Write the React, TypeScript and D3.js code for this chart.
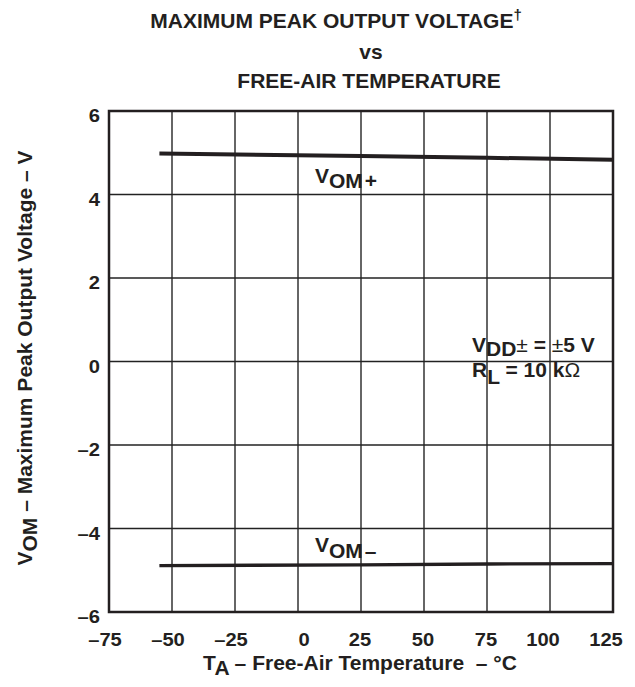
import React from "react";
import * as d3 from "d3";

const xTicks = [-75, -50, -25, 0, 25, 50, 75, 100, 125];
const yTicks = [-6, -4, -2, 0, 2, 4, 6];
const tempC = [-55, 25, 75, 125];
const vomPlus = [4.98, 4.92, 4.88, 4.83];
const vomMinus = [-4.89, -4.87, -4.85, -4.84];

const fmt = (t: number) => (t < 0 ? "\u2013" + Math.abs(t) : String(t));

export default function App() {
  const W = 635, H = 687;
  const L = 109, R = 613, T = 111, B = 612;
  const x = d3.scaleLinear().domain([-75, 125]).range([L, R]);
  const y = d3.scaleLinear().domain([-6, 6]).range([B, T]);
  const line = d3.line<number>().x((_, i) => x(tempC[i])).y((d) => y(d));
  const font = "'Liberation Sans', Arial, Helvetica, sans-serif";
  const ink = "#231f20";
  const xOff = (t: number) => (t === 0 ? 6 : Math.abs(t) >= 100 ? -7 : t < 0 ? -4 : -1);
  return (
    <svg width={W} height={H} style={{ position: "absolute", left: 0, top: 0 }} fontFamily={font} fontWeight="bold" fill={ink}>
      <rect x={0} y={0} width={W} height={H} fill="#fff" />
      <text x={336} y={28} textAnchor="middle" fontSize={21}>MAXIMUM PEAK OUTPUT VOLTAGE<tspan dy={-8} fontSize={15}>†</tspan></text>
      <text x={371} y={59} textAnchor="middle" fontSize={21}>vs</text>
      <text x={369} y={88} textAnchor="middle" fontSize={21}>FREE-AIR TEMPERATURE</text>
      {xTicks.slice(1, -1).map((t) => (
        <line key={"gx" + t} x1={x(t)} x2={x(t)} y1={T} y2={B} stroke="#333" strokeWidth={1.5} />
      ))}
      {yTicks.slice(1, -1).map((t) => (
        <line key={"gy" + t} x1={L} x2={R} y1={y(t)} y2={y(t)} stroke="#222" strokeWidth={1.5} />
      ))}
      <rect x={L} y={T} width={R - L} height={B - T} fill="none" stroke={ink} strokeWidth={2.5} />
      <path d={line(vomPlus) || ""} fill="none" stroke={ink} strokeWidth={4} />
      <path d={line(vomMinus) || ""} fill="none" stroke={ink} strokeWidth={3.3} />
      {yTicks.map((t) => (
        <text key={"ty" + t} transform={`translate(100, ${y(t) + 11}) scale(1.12, 1)`} textAnchor="end" fontSize={18}>{fmt(t)}</text>
      ))}
      {xTicks.map((t) => (
        <text key={"tx" + t} transform={`translate(${x(t) + xOff(t)}, 646) scale(1.12, 1)`} textAnchor="middle" fontSize={18}>{fmt(t)}</text>
      ))}
      <text x={315} y={183} fontSize={21}>V<tspan dy={5}>OM</tspan><tspan dx={2}>+</tspan></text>
      <text x={315} y={552} fontSize={21}>V<tspan dy={6}>OM</tspan><tspan dx={2}>–</tspan></text>
      <text x={472} y={352} fontSize={21} xmlSpace="preserve">V<tspan dy={4}>DD</tspan><tspan dy={-4} fontWeight="normal">±</tspan><tspan> = </tspan><tspan fontWeight="normal">±</tspan><tspan>5 V</tspan></text>
      <text x={472} y={377} fontSize={21} xmlSpace="preserve">R<tspan dy={7}>L</tspan><tspan dy={-7}> = 10 k</tspan><tspan fontWeight="normal">Ω</tspan></text>
      <text x={360} y={670} textAnchor="middle" fontSize={21} xmlSpace="preserve">T<tspan dy={5}>A</tspan><tspan dy={-5}>{" – Free-Air Temperature  – °C"}</tspan></text>
      <text transform={`translate(32, 358) rotate(-90)`} textAnchor="middle" fontSize={21} xmlSpace="preserve">V<tspan dy={5}>OM</tspan><tspan dy={-5}>{" – Maximum Peak Output Voltage – V"}</tspan></text>
    </svg>
  );
}
